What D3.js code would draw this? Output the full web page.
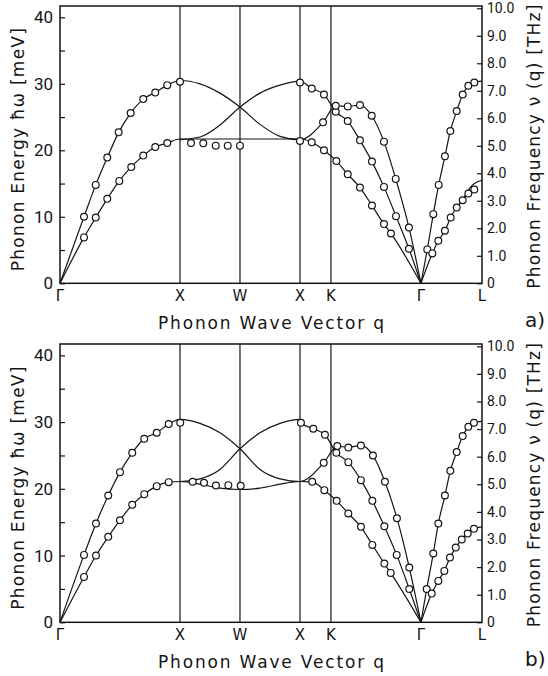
<!DOCTYPE html>
<html>
<head>
<meta charset="utf-8">
<script src="https://cdn.jsdelivr.net/npm/d3@7"></script>
<style>
  html, body { margin: 0; padding: 0; background: #fff; }
  svg { display: block; }
</style>
</head>
<body>
<svg id="chart" width="548" height="676"></svg>
<script>
// Symmetry points along the Brillouin-zone path (Γ–X length = 1)
const pathLabels = ["Γ", "X", "W", "X", "K", "Γ", "L"];
const pathPositions = [0, 1, 1.5, 2, 2.258, 3.008, 3.517];
const gridPositions = [1, 1.5, 2, 2.258];

// Axis ticks
const energyTicks = [0, 5, 10, 15, 20, 25, 30, 35, 40];
const energyLabels = [0, 10, 20, 30, 40];
const freqTicks = [0, 1, 2, 3, 4, 5, 6, 7, 8, 9, 10];
const freqLabels = ["0", "1.0", "2.0", "3.0", "4.0", "5.0", "6.0", "7.0", "8.0", "9.0", "10.0"];
const MEV_PER_THZ = 4.1357;
const E_MAX = 41.7;

// Fractions of the X–W–X stretch at which the model curves are sampled
const xwT = [0, 1/6, 2/6, 3/6, 4/6, 5/6, 1];

// ---------- panel a: measured phonon energies (meV) ----------
const aLA_q = [0.2, 0.298, 0.394, 0.489, 0.589, 0.694, 0.794, 0.894, 1.0];
const aLA_E = [10.0, 14.8, 18.9, 22.7, 25.6, 27.7, 28.7, 29.8, 30.3];
const aTA_q = [0.2, 0.298, 0.394, 0.494, 0.594, 0.694, 0.794, 0.894];
const aTA_E = [6.9, 9.9, 12.7, 15.4, 17.5, 19.2, 20.5, 21.1];
const aXW_q = [1.092, 1.194, 1.298, 1.398, 1.5];
const aXW_E = [21.1, 21.05, 20.7, 20.7, 20.7];
const aS1_q = [2.0, 2.098, 2.2, 2.298, 2.398, 2.5, 2.6, 2.7, 2.8, 2.908];
const aS1_E = [30.2, 29.3, 28.4, 25.8, 24.4, 21.5, 18.3, 14.5, 10.1, 5.2];
const aS2_q = [2.192, 2.298, 2.398, 2.5, 2.598, 2.7, 2.798, 2.908];
const aS2_E = [24.2, 26.7, 26.6, 26.8, 25.2, 21.3, 15.7, 8.4];
const aS3_q = [2.0, 2.098, 2.2, 2.303, 2.398, 2.5, 2.6, 2.7, 2.758];
const aS3_E = [21.4, 21.2, 20.0, 18.4, 16.4, 14.4, 11.7, 8.9, 7.5];
const aL1_q = [3.061, 3.111, 3.156, 3.208, 3.253, 3.306, 3.356, 3.403, 3.453];
const aL1_E = [5.1, 10.4, 14.8, 19.1, 22.9, 25.9, 28.4, 29.7, 30.2];
const aL2_q = [3.103, 3.153, 3.208, 3.256, 3.306, 3.356, 3.403, 3.453];
const aL2_E = [4.5, 6.4, 7.9, 9.9, 11.4, 12.5, 13.5, 14.1];
// model curves, panel a
const aXWdown_E = [30.5, 30.0, 28.6, 26.5, 23.9, 22.1, 21.6];
const aXWup_E = [21.6, 22.0, 23.8, 26.5, 28.6, 29.8, 30.4];
const aXWflat_E = [21.7, 21.7, 21.7, 21.7, 21.7, 21.7, 21.7];
const aLend_E = [30.4, 14.1];
const aTAarc_q = [3.356, 3.403, 3.453, 3.517];
const aTAarc_E = [12.5, 14.0, 15.0, 15.5];

// ---------- panel b: measured phonon energies (meV) ----------
const bLA_q = [0.2, 0.3, 0.402, 0.5, 0.602, 0.702, 0.806, 0.906, 1.002];
const bLA_E = [10.1, 14.8, 19.0, 22.5, 25.4, 27.5, 28.4, 29.7, 29.9];
const bTA_q = [0.2, 0.3, 0.402, 0.5, 0.602, 0.702, 0.806, 0.906];
const bTA_E = [6.8, 10.0, 12.8, 15.3, 17.6, 19.2, 20.4, 21.0];
const bXW_q = [1.106, 1.2, 1.3, 1.403, 1.506];
const bXW_E = [21.05, 20.9, 20.5, 20.55, 20.45];
const bS1_q = [2.008, 2.111, 2.208, 2.303, 2.403, 2.508, 2.603, 2.703, 2.806, 2.911];
const bS1_E = [29.9, 29.0, 28.1, 25.4, 24.0, 21.3, 18.2, 14.4, 10.1, 5.0];
const bS2_q = [2.198, 2.311, 2.403, 2.508, 2.608, 2.708, 2.808, 2.911];
const bS2_E = [23.9, 26.4, 26.2, 26.5, 25.0, 21.05, 15.6, 8.2];
const bS3_q = [2.102, 2.203, 2.306, 2.403, 2.508, 2.603, 2.703, 2.756];
const bS3_E = [21.05, 19.8, 18.2, 16.3, 14.3, 11.6, 8.8, 7.4];
const bL1_q = [3.056, 3.111, 3.153, 3.208, 3.253, 3.306, 3.356, 3.403, 3.45];
const bL1_E = [5.0, 10.3, 14.8, 19.0, 22.7, 25.5, 27.9, 29.3, 29.9];
const bL2_q = [3.098, 3.153, 3.203, 3.25, 3.298, 3.348, 3.398, 3.45];
const bL2_E = [4.3, 6.2, 7.7, 9.7, 11.2, 12.4, 13.3, 14.0];
// model curves, panel b
const bXWdown_E = [30.4, 29.8, 28.4, 26.0, 22.9, 21.5, 21.1];
const bXWup_E = [21.1, 21.5, 22.9, 26.0, 28.4, 29.8, 30.4];
const bXWlow_E = [21.1, 20.7, 20.1, 19.9, 20.1, 20.7, 21.1];
const bLend_E = [30.1, 14.3];

// ---------- helpers ----------
const pts = (q, e) => q.map((v, i) => [v, e[i]]);
const xw = e => pts(xwT.map(t => 1 + t), e);
const G0 = [[0, 0]];
const G1 = [[pathPositions[5], 0]];
// join segments into one path, keeping q strictly increasing
function chain(...parts) {
  const out = [];
  [].concat(...parts).forEach(p => {
    if (!out.length || p[0] > out[out.length - 1][0] + 1e-9) out.push(p);
  });
  return out;
}

const L = pathPositions[6];

const panels = [
  {
    tag: "a)", top: 6, bottom: 283.3,
    circles: [pts(aLA_q, aLA_E), pts(aTA_q, aTA_E), pts(aXW_q, aXW_E), pts(aS1_q, aS1_E),
              pts(aS2_q, aS2_E), pts(aS3_q, aS3_E), pts(aL1_q, aL1_E), pts(aL2_q, aL2_E)],
    lines: [
      chain(G0, pts(aLA_q, aLA_E).slice(0, -1), xw(aXWdown_E), pts(aS2_q, aS2_E), G1),
      chain(G0, pts(aTA_q, aTA_E), xw(aXWflat_E), pts(aS3_q, aS3_E), G1),
      chain(xw(aXWup_E), pts(aS1_q, aS1_E), G1),
      chain(G1, pts(aL1_q, aL1_E), [[L, aLend_E[0]]]),
      chain(G1, pts(aL2_q, aL2_E)),
      pts(aTAarc_q, aTAarc_E)
    ]
  },
  {
    tag: "b)", top: 344, bottom: 622.3,
    circles: [pts(bLA_q, bLA_E), pts(bTA_q, bTA_E), pts(bXW_q, bXW_E), pts(bS1_q, bS1_E),
              pts(bS2_q, bS2_E), pts(bS3_q, bS3_E), pts(bL1_q, bL1_E), pts(bL2_q, bL2_E)],
    lines: [
      chain(G0, pts(bLA_q, bLA_E).slice(0, -1), xw(bXWdown_E), pts(bS2_q, bS2_E), G1),
      chain(G0, pts(bTA_q, bTA_E), xw(bXWlow_E), pts(bS3_q, bS3_E), G1),
      chain(xw(bXWup_E), pts(bS1_q, bS1_E), G1),
      chain(G1, pts(bL1_q, bL1_E), [[L, bLend_E[0]]]),
      chain(G1, pts(bL2_q, bL2_E), [[L, bLend_E[1]]])
    ]
  }
];

// ---------- drawing ----------
const svg = d3.select("#chart");
const INK = "#151515";
const left = 60, right = 482;
const x = d3.scaleLinear().domain([0, L]).range([left, right]);

panels.forEach(p => {
  const g = svg.append("g");
  const y = d3.scaleLinear().domain([0, E_MAX]).range([p.bottom, p.top]);
  const yF = d3.scaleLinear().domain([0, E_MAX / MEV_PER_THZ]).range([p.bottom, p.top]);
  const cy = (p.top + p.bottom) / 2;

  const line = d3.line().x(d => x(d[0])).y(d => y(d[1])).curve(d3.curveMonotoneX);

  // dispersion curves
  g.selectAll("path.curve").data(p.lines).join("path")
    .attr("class", "curve")
    .attr("d", line)
    .attr("fill", "none")
    .attr("stroke", INK)
    .attr("stroke-width", 1.2);

  // vertical lines at the symmetry points
  g.selectAll("line.grid").data(gridPositions).join("line")
    .attr("class", "grid")
    .attr("x1", d => x(d)).attr("x2", d => x(d))
    .attr("y1", p.top).attr("y2", p.bottom)
    .attr("stroke", INK).attr("stroke-width", 1.2);

  // frame
  g.append("rect")
    .attr("x", left).attr("y", p.top)
    .attr("width", right - left).attr("height", p.bottom - p.top)
    .attr("fill", "none").attr("stroke", INK).attr("stroke-width", 1.5);

  // left energy axis, ticks pointing inward
  const yAxis = d3.axisLeft(y).tickValues(energyTicks).tickSizeInner(-5).tickSizeOuter(0)
    .tickFormat(d => energyLabels.includes(d) ? d : "");
  const ya = g.append("g").attr("transform", `translate(${left},0)`).call(yAxis);
  ya.select(".domain").remove();
  ya.selectAll(".tick line").attr("stroke", INK).attr("stroke-width", 1.2);
  ya.selectAll(".tick text")
    .attr("x", -7)
    .attr("font-family", "Roboto, 'DejaVu Sans', sans-serif")
    .attr("font-size", 17).attr("fill", INK);

  // right frequency axis
  const fAxis = d3.axisRight(yF).tickValues(freqTicks).tickSizeInner(-5).tickSizeOuter(0)
    .tickFormat((d, i) => freqLabels[i]);
  const fa = g.append("g").attr("transform", `translate(${right},0)`).call(fAxis);
  fa.select(".domain").remove();
  fa.selectAll(".tick line").attr("stroke", INK).attr("stroke-width", 1.2);
  fa.selectAll(".tick text")
    .attr("x", 5)
    .attr("font-family", "Roboto, 'DejaVu Sans', sans-serif")
    .attr("font-size", 14).attr("fill", INK);

  // measured points
  g.selectAll("circle.pt").data([].concat(...p.circles)).join("circle")
    .attr("class", "pt")
    .attr("cx", d => x(d[0])).attr("cy", d => y(d[1]))
    .attr("r", 3.4)
    .attr("fill", "#fff").attr("stroke", INK).attr("stroke-width", 1.2);

  // symmetry point labels
  g.selectAll("text.sym").data(pathLabels).join("text")
    .attr("class", "sym")
    .attr("x", (d, i) => x(pathPositions[i]))
    .attr("y", p.bottom + 18)
    .attr("text-anchor", "middle")
    .attr("font-family", "'DejaVu Sans', sans-serif")
    .attr("font-size", 15).attr("fill", INK)
    .text(d => d);

  // axis titles
  g.append("text")
    .attr("x", 271).attr("y", p.bottom + 46)
    .attr("text-anchor", "middle")
    .attr("font-family", "'DejaVu Sans', sans-serif")
    .attr("font-size", 17).attr("fill", INK)
    .attr("textLength", 226).attr("lengthAdjust", "spacing")
    .text("Phonon Wave Vector q");

  g.append("text")
    .attr("transform", `translate(24,${cy + 5}) rotate(-90)`)
    .attr("text-anchor", "middle")
    .attr("font-family", "'DejaVu Sans', sans-serif")
    .attr("font-size", 17).attr("fill", INK)
    .attr("textLength", 243).attr("lengthAdjust", "spacing")
    .text("Phonon Energy ħω [meV]");

  g.append("text")
    .attr("transform", `translate(540,${cy + 2}) rotate(-90)`)
    .attr("text-anchor", "middle")
    .attr("font-family", "'DejaVu Sans', sans-serif")
    .attr("font-size", 17).attr("fill", INK)
    .attr("textLength", 284).attr("lengthAdjust", "spacing")
    .text("Phonon Frequency ν (q) [THz]");

  // panel tag
  g.append("text")
    .attr("x", 525).attr("y", p.bottom + 44)
    .attr("font-family", "'DejaVu Sans', sans-serif")
    .attr("font-size", 20).attr("fill", INK)
    .text(p.tag);
});
</script>
</body>
</html>
